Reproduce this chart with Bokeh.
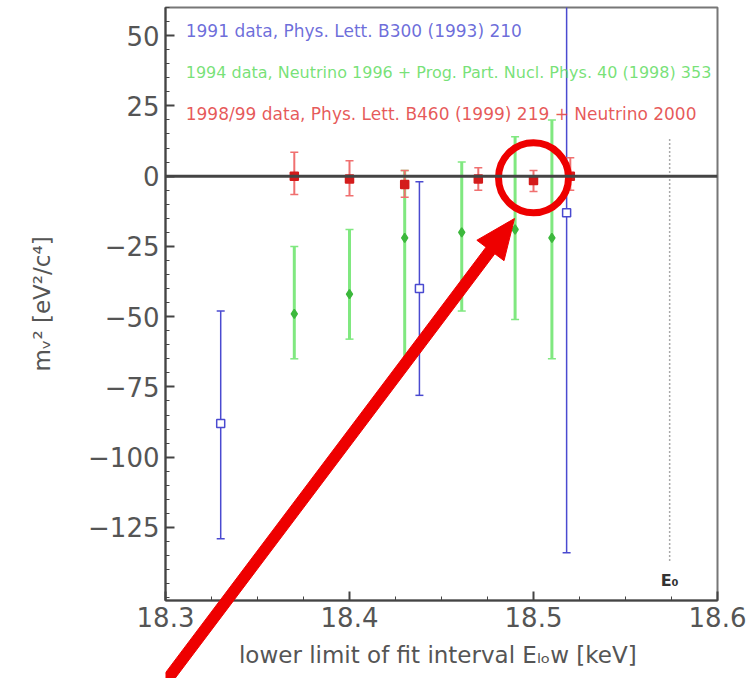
import numpy as np
from bokeh.plotting import figure
from bokeh.layouts import column
from bokeh.models import (ColumnDataSource, Whisker, TeeHead, Span, Label,
                          PolyAnnotation, FixedTicker, Range1d)
from bokeh.embed import file_html
from bokeh.resources import INLINE

# ---- data ----
blue_x = [18.33, 18.438, 18.518]
blue_y = [-88, -40, -13]
blue_hi = [-48, -2, 110]
blue_lo = [-129, -78, -134]

green_x = [18.37, 18.40, 18.43, 18.461, 18.49, 18.51]
green_y = [-49, -42, -22, -20, -19, -22]
green_hi = [-25, -19, 2, 5, 14, 20]
green_lo = [-65, -58, -66, -48, -51, -65]

red_x = [18.37, 18.40, 18.43, 18.47, 18.50, 18.52]
red_y = [0, -1, -3, -1, -1.6, 0]
red_hi = [8.5, 5.5, 2, 3, 2, 6.5]
red_lo = [-6.5, -7, -7.5, -5, -5.5, -5]

endpoint = 18.574
y_ticks = [50, 25, 0, -25, -50, -75, -100, -125]
x_ticks = [18.3, 18.4, 18.5, 18.6]

labels = [
    ("1991 data, Phys. Lett. B300 (1993) 210", "#5454d4", 51.8, "17px"),
    ("1994 data, Neutrino 1996 + Prog. Part. Nucl. Phys. 40 (1998) 353", "#5fdc5f", 36.8, "16px"),
    ("1998/99 data, Phys. Lett. B460 (1999) 219 + Neutrino 2000", "#e23c3c", 22.2, "17px"),
]

BLUE = "#4a4ad0"
GREEN_BAR = "#80e880"
GREEN_MK = "#3cb83c"
RED_BAR = "#f07070"
RED_MK = "#d41c1c"
HL = "#ee0000"
FONT = "DejaVu Sans"

X0, X1 = 18.3, 18.6
Y0, Y1 = -151, 60
W, H = 754, 678
BL, BR, BT, BB = 165, 37, 7, 78
sx = (X1 - X0) / (W - BL - BR)          # data per pixel, x
sy = (Y1 - Y0) / (H - BT - BB)          # data per pixel, y

p = figure(width=W, height=H, output_backend="svg", toolbar_location=None,
           x_range=Range1d(X0, X1), y_range=Range1d(Y0, Y1),
           min_border_left=BL, min_border_right=BR, min_border_top=BT,
           min_border_bottom=BB)
p.background_fill_color = "white"
p.border_fill_color = "white"
p.grid.visible = False
p.outline_line_color = "#777777"
p.outline_line_width = 2

for ax in (p.xaxis[0], p.yaxis[0]):
    ax.axis_line_color = "#444444"
    ax.axis_line_width = 2
    ax.major_tick_in = 9
    ax.major_tick_out = 0
    ax.minor_tick_in = 4
    ax.minor_tick_out = 0
    ax.major_tick_line_color = "#444444"
    ax.minor_tick_line_color = "#444444"
    ax.major_tick_line_width = 2
    ax.major_label_text_font = FONT
    ax.major_label_text_font_size = "26px"
    ax.major_label_text_color = "#555555"
    ax.axis_label_text_font = FONT
    ax.axis_label_text_font_size = "23px"
    ax.axis_label_text_font_style = "normal"
    ax.axis_label_text_color = "#555555"

p.xaxis.ticker = FixedTicker(ticks=x_ticks,
                             minor_ticks=[18.3 + 0.025 * i for i in range(13)])
p.xaxis.major_label_overrides = {t: f"{t:.1f}" for t in x_ticks}
p.xaxis.major_label_standoff = 6
p.xaxis.axis_label = "lower limit of fit interval E\u2097\u2092w  [keV]"
p.xaxis.axis_label_standoff = 12

p.yaxis.ticker = FixedTicker(ticks=y_ticks, minor_ticks=list(range(-150, 61, 5)))
p.yaxis.major_label_overrides = {t: (str(t) if t >= 0 else "\u2212" + str(-t)) for t in y_ticks}
p.yaxis.major_label_standoff = 6
p.yaxis.axis_label = "m\u1d65\u00b2 [eV\u00b2/c\u2074]"
p.yaxis.axis_label_standoff = 30

# zero line
p.add_layout(Span(location=0, dimension="width", line_color="#444444", line_width=3))

# endpoint dotted line
p.segment(x0=[endpoint], y0=[13], x1=[endpoint], y1=[-137], line_color="#555555",
          line_width=1.5, line_dash="1 3")
p.add_layout(Label(x=endpoint, y=-144, text="E\u2080", text_font=FONT,
                   text_font_size="16px", text_color="#333333", text_align="center",
                   text_baseline="middle", text_font_style="bold"))

def series(xs, ys, hi, lo, bar_color, bar_w, mk_color, marker, size, fill):
    src = ColumnDataSource(dict(x=xs, y=ys, upper=hi, lower=lo))
    w = Whisker(source=src, base="x", upper="upper", lower="lower",
                dimension="height", line_color=bar_color, line_width=bar_w,
                upper_head=TeeHead(size=8, line_color=bar_color, line_width=1.5),
                lower_head=TeeHead(size=8, line_color=bar_color, line_width=1.5))
    p.add_layout(w)
    p.scatter("x", "y", source=src, marker=marker, size=size, line_color=mk_color,
              fill_color=(mk_color if fill else "white"), line_width=1.5)

series(green_x, green_y, green_hi, green_lo, GREEN_BAR, 3, GREEN_MK, "diamond", 9, True)
series(blue_x, blue_y, blue_hi, blue_lo, BLUE, 1.5, BLUE, "square", 8, False)
series(red_x, red_y, red_hi, red_lo, RED_BAR, 2, RED_MK, "square", 8, True)

# legend texts
for txt, col, yy, fs in labels:
    p.add_layout(Label(x=18.311, y=yy, text=txt, text_font=FONT, text_font_size=fs,
                       text_color=col, text_baseline="middle", text_alpha=0.85))

# highlight circle around the 18.50 keV point
p.scatter(x=[red_x[4]], y=[red_y[4] + 1], marker="circle", size=70,
          fill_color=None, line_color=HL, line_width=7)

# ---- transparent overlay: same x frame, full canvas height, same data scale ----
q = figure(width=W, height=H, output_backend="svg", toolbar_location=None,
           x_range=Range1d(X0, X1),
           y_range=Range1d(Y0 - BB * sy, Y1 + BT * sy),
           x_axis_location=None, y_axis_location=None,
           min_border_left=BL, min_border_right=BR,
           min_border_top=0, min_border_bottom=0)
q.grid.visible = False
q.background_fill_color = None
q.border_fill_color = None
q.outline_line_color = None
q.margin = (-H, 0, 0, 0)

# big arrow pointing at the highlighted point
start = np.array([151.0, 700.0])        # canvas px (y down)
tip = np.array([514.0, 218.0])
u = (tip - start) / np.linalg.norm(tip - start)
n = np.array([-u[1], u[0]])
hw, head_len, head_hw = 5.5, 40.0, 17.0
base = tip - head_len * u
pts = [start + hw * n, base + hw * n, base + head_hw * n, tip,
       base - head_hw * n, base - hw * n, start - hw * n]
ax_xs = [X0 + (pt[0] - BL) * sx for pt in pts]
ax_ys = [Y1 - (pt[1] - BT) * sy for pt in pts]
q.add_layout(PolyAnnotation(xs=ax_xs, ys=ax_ys, fill_color=HL, fill_alpha=1.0,
                            line_color=HL, line_width=1, line_alpha=1.0))

layout = column(p, q, spacing=0)
open("out.html", "w").write(file_html(layout, INLINE))
